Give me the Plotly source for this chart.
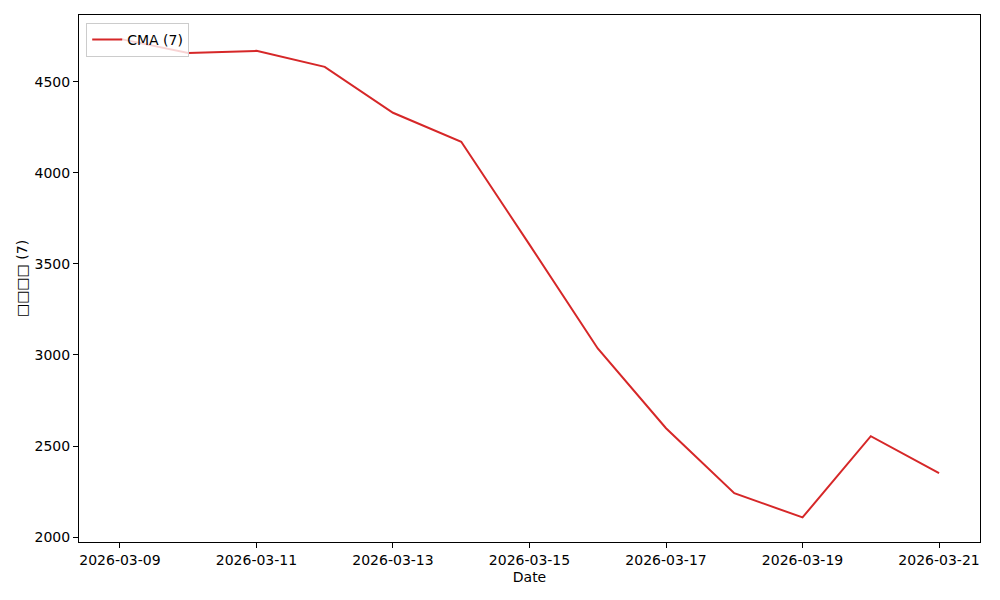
import plotly.graph_objects as go
import pandas as pd

dates = pd.date_range("2026-03-09", "2026-03-21", freq="D")
cma_values = [4736, 4659, 4670, 4582, 4330, 4171, 3606, 3036, 2598, 2241, 2108, 2554, 2351]
y_ticks = [2000, 2500, 3000, 3500, 4000, 4500]
x_ticks = pd.date_range("2026-03-09", "2026-03-21", freq="2D")

fig = go.Figure()
fig.add_trace(go.Scatter(x=dates, y=cma_values, mode="lines", name="CMA (7)",
                         line=dict(color="#d62728", width=2)))

axis_common = dict(showline=True, linecolor="black", linewidth=1, mirror=True,
                   ticks="outside", ticklen=5, tickcolor="black", showgrid=False,
                   zeroline=False, tickfont=dict(size=14, color="black"))

fig.update_layout(
    width=1000, height=600,
    margin=dict(l=71, r=28, t=7, b=66),
    paper_bgcolor="white", plot_bgcolor="white",
    font=dict(family="DejaVu Sans", size=14, color="black"),
    showlegend=True,
    legend=dict(x=0.008, y=0.985, xanchor="left", yanchor="top",
                bgcolor="rgba(255,255,255,0.8)", bordercolor="#cccccc", borderwidth=1,
                font=dict(size=14), itemwidth=30),
    xaxis=dict(axis_common, title=dict(text="Date", standoff=5, font=dict(size=14)),
               range=[pd.Timestamp("2026-03-08 09:36"), pd.Timestamp("2026-03-21 14:24")],
               tickvals=x_ticks, tickformat="%Y-%m-%d"),
    yaxis=dict(axis_common, title=dict(text="□□□□ (7)", standoff=3, font=dict(size=14)),
               range=[1973, 4867], tickvals=y_ticks),
)

fig.write_html("out.html")
